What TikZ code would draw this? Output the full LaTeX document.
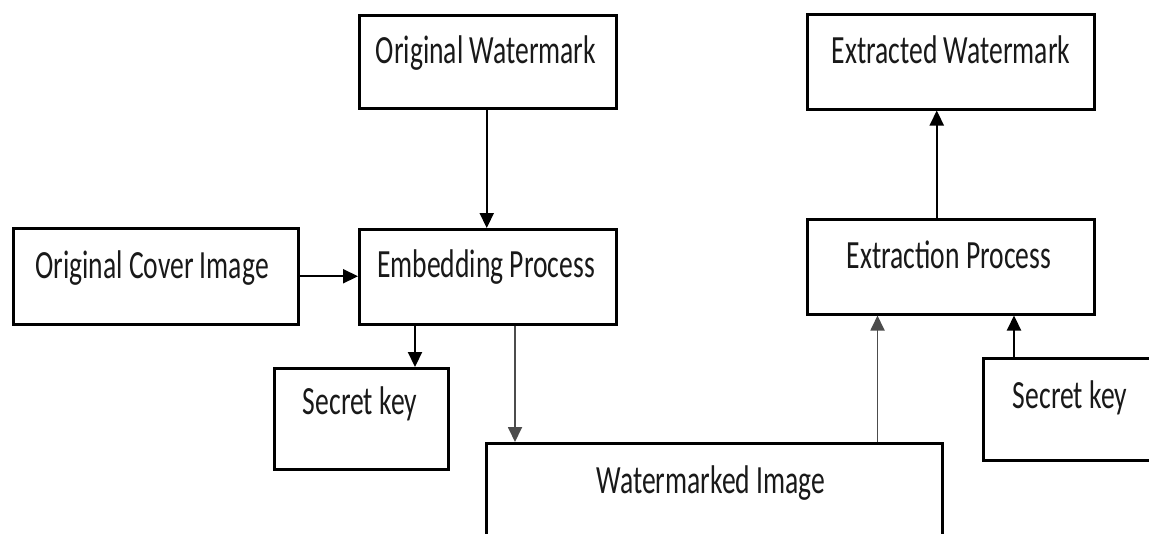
\documentclass[tikz,border=0pt]{standalone}
\usepackage{fontspec}
\setmainfont{Carlito}
\usetikzlibrary{arrows.meta}
\begin{document}
\begin{tikzpicture}[x=1pt,y=-1pt,
  box/.style={draw=black, line width=2.5pt, inner sep=0pt, anchor=north west},
  lbl/.style={inner sep=0pt, anchor=base, text=black!90, font=\fontsize{27.6}{30}\selectfont},
  arr/.style={line width=2.2pt, draw=black, -{Triangle[length=15pt,width=14pt]}},
  garr/.style={line width=1.8pt, draw=black!70, -{Triangle[length=15pt,width=14pt]}}]
\useasboundingbox (0,0) rectangle (1149,533);
\clip (0,0) rectangle (1149,533);
% boxes
\node[box, minimum width=257pt, minimum height=93pt] (ow) at (358,14) {};
\node[box, minimum width=287pt, minimum height=95pt] (ew) at (806,13) {};
\node[box, minimum width=285pt, minimum height=96pt] (cov) at (12,227) {};
\node[box, minimum width=257pt, minimum height=95pt] (emb) at (358,228) {};
\node[box, minimum width=287pt, minimum height=95pt] (ext) at (806,218) {};
\node[box, minimum width=174pt, minimum height=101pt] (sk1) at (273,367) {};
\node[box, minimum width=190pt, minimum height=102pt] (sk2) at (982,357) {};
\node[box, minimum width=456pt, minimum height=140pt] (wm) at (485,442) {};
% labels
\node[lbl] (owt) at (486,63) {\scalebox{1}[1.45]{Original Watermark}};
\node[lbl] (ewt) at (951,63) {\scalebox{1}[1.45]{Extracted Watermark}};
\node[lbl] (covt) at (152,278) {\scalebox{1}[1.45]{Original Cover Image}};
\node[lbl] (embt) at (486,277) {\scalebox{1}[1.45]{Embedding Process}};
\node[lbl] (extt) at (949,268) {\scalebox{1}[1.45]{Extraction Process}};
\node[lbl] (sk1t) at (360,414) {\scalebox{1}[1.45]{Secret key}};
\node[lbl] (sk2t) at (1070,408) {\scalebox{1}[1.45]{Secret key}};
\node[lbl] (wmt) at (711,493) {\scalebox{1}[1.45]{Watermarked Image}};
% connectors
\draw[arr] ([xshift=-1pt]ow.south) -- ([xshift=-1pt]ow.south |- emb.north);
\draw[arr] (cov.east) -- (cov.east -| emb.west);
\draw[arr] ([xshift=57pt]emb.south west) -- ([xshift=57pt]emb.south west |- sk1.north);
\draw[garr] ([xshift=157pt]emb.south west) -- ([xshift=157pt]emb.south west |- wm.north);
\draw[garr] ([xshift=-66pt]wm.north east) -- ([xshift=-66pt]wm.north east |- ext.south);
\draw[arr] ([xshift=32pt]sk2.north west) -- ([xshift=32pt]sk2.north west |- ext.south);
\draw[arr] ([xshift=-14pt]ext.north) -- ([xshift=-14pt]ext.north |- ew.south);
\end{tikzpicture}
\end{document}
